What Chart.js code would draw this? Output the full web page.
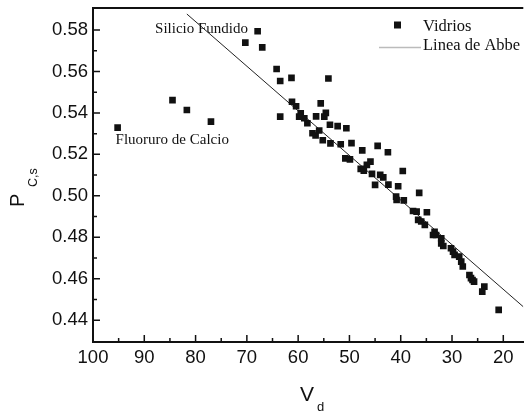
<!DOCTYPE html>
<html>
<head>
<meta charset="utf-8">
<script src="https://cdn.jsdelivr.net/npm/chart.js@4.4.1/dist/chart.umd.min.js"></script>
<style>
  body { margin: 0; background: #fff; }
  #wrap { width: 528px; height: 412px; }
</style>
</head>
<body>
<div id="wrap"><canvas id="chart_abbe" width="528" height="412"></canvas></div>
<script>
// Vidrios: numero de Abbe V_d y dispersion parcial P_C,s
var vidrios_v = [95.2, 84.5, 81.7, 77.0, 70.3, 67.9, 67.0, 64.2, 63.5, 61.3,
  54.1, 61.2, 60.4, 59.5, 58.8, 63.5, 56.5, 55.6, 54.6, 54.9,
  58.2, 53.8, 52.3, 50.6, 57.2, 56.6, 55.9, 55.2, 53.7, 51.7,
  49.6, 47.5, 44.5, 42.5, 50.8, 49.9, 46.6, 45.9, 47.8, 47.2,
  45.6, 44.0, 43.4, 39.6, 45.0, 42.4, 40.5, 40.9, 40.8, 39.4,
  36.4, 37.6, 36.9, 34.9, 36.6, 36.0, 35.3, 33.4, 33.1, 33.7,
  32.1, 32.1, 31.7, 30.2, 29.8, 29.5, 28.6, 28.2, 27.9, 26.6,
  26.3, 26.0, 25.7, 23.7, 24.1, 20.9, 59.8]
var vidrios_p = [0.5329, 0.5462, 0.5414, 0.5358, 0.5739, 0.5794, 0.5716, 0.5612, 0.5554, 0.5569,
  0.5566, 0.5454, 0.5432, 0.5398, 0.5374, 0.5382, 0.5383, 0.5446, 0.5400, 0.5382,
  0.5350, 0.5343, 0.5336, 0.5326, 0.5302, 0.5291, 0.5315, 0.5268, 0.5253, 0.5249,
  0.5254, 0.5219, 0.5241, 0.5210, 0.5181, 0.5176, 0.5149, 0.5165, 0.5130, 0.5121,
  0.5106, 0.5101, 0.5089, 0.5120, 0.5053, 0.5054, 0.5046, 0.4996, 0.4980, 0.4978,
  0.5014, 0.4927, 0.4924, 0.4921, 0.4884, 0.4876, 0.4860, 0.4827, 0.4811, 0.4811,
  0.4795, 0.4771, 0.4758, 0.4747, 0.4731, 0.4715, 0.4707, 0.4683, 0.4659, 0.4618,
  0.4603, 0.4594, 0.4586, 0.4562, 0.4538, 0.4450, 0.5382]

// Linea de Abbe (extremos)
var abbe_v = [81.7, 16.1]
var abbe_p = [0.5877, 0.4465]

// Ticks
var x_ticks = [100, 90, 80, 70, 60, 50, 40, 30, 20]
var x_minor = [95, 85, 75, 65, 55, 45, 35, 25]
var y_ticks = [0.44, 0.46, 0.48, 0.50, 0.52, 0.54, 0.56, 0.58]
var y_minor = [0.45, 0.47, 0.49, 0.51, 0.53, 0.55, 0.57]

var sans = '"Liberation Sans", Arial, sans-serif'
var serif = '"Liberation Serif", "Times New Roman", serif'

var points = vidrios_v.map(function (v, i) { return { x: v, y: vidrios_p[i] } })
var abbe = abbe_v.map(function (v, i) { return { x: v, y: abbe_p[i] } })

// inward tick marks, top frame line, axis titles, legend and labels
var decorations = {
  id: 'decorations',
  afterDraw: function (chart) {
    var ctx = chart.ctx
    var area = chart.chartArea
    var xs = chart.scales.x
    var ys = chart.scales.y

    ctx.save()
    ctx.strokeStyle = '#111'
    ctx.lineWidth = 1.5
    ctx.beginPath()
    x_ticks.forEach(function (v) {
      var px = xs.getPixelForValue(v)
      ctx.moveTo(px, area.bottom); ctx.lineTo(px, area.bottom - 7)
    })
    x_minor.forEach(function (v) {
      var px = xs.getPixelForValue(v)
      ctx.moveTo(px, area.bottom); ctx.lineTo(px, area.bottom - 4)
    })
    y_ticks.forEach(function (v) {
      var py = ys.getPixelForValue(v)
      ctx.moveTo(area.left, py); ctx.lineTo(area.left + 7, py)
    })
    y_minor.forEach(function (v) {
      var py = ys.getPixelForValue(v)
      ctx.moveTo(area.left, py); ctx.lineTo(area.left + 4, py)
    })
    ctx.stroke()

    // top frame
    ctx.lineWidth = 2
    ctx.beginPath()
    ctx.moveTo(area.left - 1, area.top)
    ctx.lineTo(area.right, area.top)
    ctx.stroke()

    ctx.fillStyle = '#111'

    // y title: P_C,s
    ctx.save()
    ctx.translate(24, 207)
    ctx.rotate(-Math.PI / 2)
    ctx.font = '20px ' + sans
    ctx.textBaseline = 'alphabetic'
    ctx.fillText('P', 0, 0)
    ctx.font = '12.5px ' + sans
    ctx.fillText('C,s', 20, 13)
    ctx.restore()

    // x title: V_d
    ctx.font = '21px ' + sans
    ctx.fillText('V', 300, 401)
    ctx.font = '13px ' + sans
    ctx.fillText('d', 317, 411)

    // legend
    var ds = chart.data.datasets
    ctx.fillRect(394, 21.5, 7, 7)
    ctx.strokeStyle = '#bbb'
    ctx.lineWidth = 1.5
    ctx.beginPath()
    ctx.moveTo(379, 47.5); ctx.lineTo(421, 47.5)
    ctx.stroke()
    ctx.font = '16.5px ' + serif
    ctx.fillText(ds[0].label, 423, 30.5)
    ctx.fillText(ds[1].label, 423, 50)

    // labels of the two reference glasses
    ctx.font = '15px ' + serif
    ctx.fillText('Silicio Fundido', xs.getPixelForValue(87.9), ys.getPixelForValue(0.5786))
    ctx.fillText('Fluoruro de Calcio', xs.getPixelForValue(95.6), ys.getPixelForValue(0.5248))
    ctx.restore()
  }
}

var chart = new Chart(document.getElementById('chart_abbe').getContext('2d'), {
  type: 'scatter',
  data: {
    datasets: [{
      label: 'Vidrios',
      data: points,
      pointStyle: 'rect',
      pointRadius: 4.7,
      backgroundColor: '#111',
      borderWidth: 0
    }, {
      label: 'Linea de Abbe',
      type: 'line',
      data: abbe,
      borderColor: '#222',
      borderWidth: 1,
      pointRadius: 0,
      fill: false
    }]
  },
  options: {
    responsive: false,
    devicePixelRatio: 1,
    animation: false,
    layout: { padding: { top: 8, right: 0, left: 0, bottom: 0 } },
    plugins: {
      legend: { display: false },
      tooltip: { enabled: false }
    },
    scales: {
      x: {
        type: 'linear',
        reverse: true,
        min: 16.1,
        max: 100,
        afterBuildTicks: function (s) { s.ticks = x_ticks.map(function (v) { return { value: v } }) },
        afterFit: function (s) {
          s.height = 70
          s.paddingLeft = 0; s.paddingRight = 0
        },
        grid: { display: false, drawTicks: false },
        border: { display: true, color: '#111', width: 2 },
        ticks: {
          autoSkip: false,
          maxRotation: 0,
          padding: 5,
          color: '#111',
          font: { family: sans, size: 18.5 },
          callback: function (v) { return String(v) }
        }
      },
      y: {
        type: 'linear',
        min: 0.4295,
        max: 0.5906,
        afterBuildTicks: function (s) { s.ticks = y_ticks.map(function (v) { return { value: v } }) },
        afterFit: function (s) {
          s.width = 93
          s.paddingTop = 0; s.paddingBottom = 0
        },
        grid: { display: false, drawTicks: false },
        border: { display: true, color: '#111', width: 2 },
        ticks: {
          autoSkip: false,
          padding: 5,
          color: '#111',
          font: { family: sans, size: 18.5 },
          callback: function (v) { return v.toFixed(2) }
        }
      }
    }
  },
  plugins: [decorations]
})
</script>
</body>
</html>
